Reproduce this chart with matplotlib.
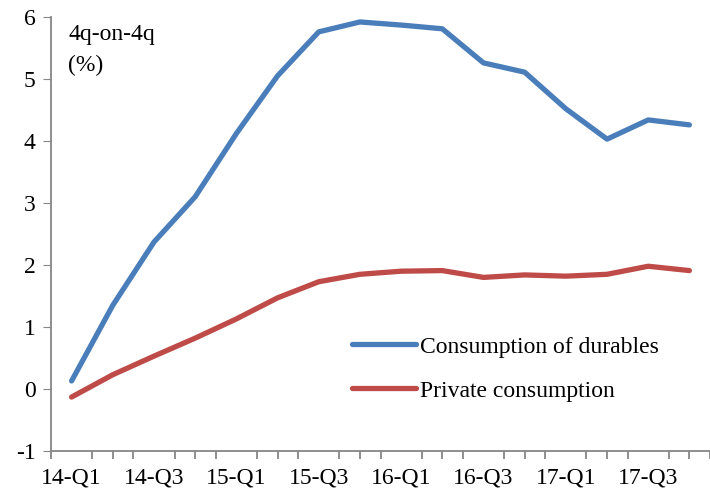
import numpy as np
import matplotlib.pyplot as plt

quarters = ['14-Q1', '14-Q2', '14-Q3', '14-Q4', '15-Q1', '15-Q2', '15-Q3', '15-Q4',
            '16-Q1', '16-Q2', '16-Q3', '16-Q4', '17-Q1', '17-Q2', '17-Q3', '17-Q4']
durables = [0.13, 1.35, 2.37, 3.10, 4.12, 5.05, 5.76, 5.92,
            5.87, 5.81, 5.26, 5.11, 4.52, 4.03, 4.34, 4.26]
private = [-0.13, 0.23, 0.53, 0.82, 1.13, 1.47, 1.73, 1.85,
           1.90, 1.91, 1.80, 1.84, 1.82, 1.85, 1.98, 1.91]

plt.rcParams['font.family'] = ['Liberation Serif', 'DejaVu Serif']
plt.rcParams['axes.unicode_minus'] = False

fig = plt.figure(figsize=(7.1, 4.94), dpi=100)
ax = fig.add_axes([51 / 710, 43 / 494, 659 / 710, 434 / 494])

x = np.arange(len(quarters))
ax.plot(x, durables, color='#4a7ebb', lw=3.8, solid_capstyle='round',
        label='Consumption of durables')
ax.plot(x, private, color='#be4b48', lw=3.8, solid_capstyle='round',
        label='Private consumption')

ax.set_xlim(-0.5, len(quarters) - 0.5)
ax.set_ylim(-1, 6)
ax.set_yticks(range(-1, 7))
ax.set_xticks(x[::2])
ax.set_xticklabels(quarters[::2])
ax.set_xticks(np.arange(-0.5, len(quarters), 0.5), minor=True)

for s in ['top', 'right']:
    ax.spines[s].set_visible(False)
for s in ['left', 'bottom']:
    ax.spines[s].set_color('#868686')
    ax.spines[s].set_linewidth(1.3)

ax.tick_params(axis='y', which='major', length=6, color='#868686', labelsize=17, pad=5)
ax.tick_params(axis='x', which='major', length=0, labelsize=17, pad=12)
ax.tick_params(axis='x', which='minor', length=6, color='#868686', width=1.3)

ax.text(0.026, 0.985, '4q-on-4q\n(%)', transform=ax.transAxes, fontsize=17,
        va='top', ha='left', linespacing=1.65)

ax.legend(loc='lower left', bbox_to_anchor=(0.425, 0.065), frameon=False, fontsize=17,
          handlelength=2.7, handletextpad=0.15, labelspacing=0.95)

fig.savefig('out.png', dpi=100)
